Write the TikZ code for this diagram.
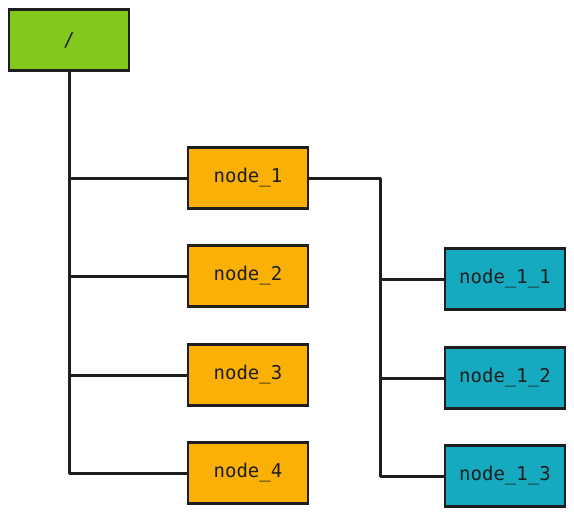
\documentclass[tikz,border=0pt]{standalone}
\usepackage{fontspec}
\setmonofont{DejaVu Sans Mono}
\definecolor{rootgreen}{HTML}{82C91E}
\definecolor{boxorange}{HTML}{FAB005}
\definecolor{boxteal}{HTML}{15AABF}
\definecolor{inkc}{HTML}{1E1E1E}
\begin{document}
\begin{tikzpicture}[x=1pt,y=-1pt,
  box/.style={draw=inkc,line width=2.4pt,minimum width=120pt,minimum height=61pt,inner sep=0pt,
    font=\ttfamily\fontsize{19}{21}\selectfont,text=inkc},
  link/.style={draw=inkc,line width=3pt,line join=round}]
\useasboundingbox (0,0) rectangle (574,515);
\node[box,fill=rootgreen] (root) at (69,40) {/};
\node[box,fill=boxorange] (n1) at (248,178) {node\_1};
\node[box,fill=boxorange] (n2) at (248,276) {node\_2};
\node[box,fill=boxorange] (n3) at (248,375) {node\_3};
\node[box,fill=boxorange] (n4) at (248,473) {node\_4};
\node[box,fill=boxteal] (n11) at (505,279) {node\_1\_1};
\node[box,fill=boxteal] (n12) at (505,378) {node\_1\_2};
\node[box,fill=boxteal] (n13) at (505,476) {node\_1\_3};
\coordinate (t0) at (root.south);
\draw[link] (t0) -- (t0 |- n4.west) -- (n4.west);
\draw[link] (t0 |- n1.west) -- (n1.west);
\draw[link] (t0 |- n2.west) -- (n2.west);
\draw[link] (t0 |- n3.west) -- (n3.west);
\coordinate (t1) at (380,0);
\draw[link] (n1.east) -- (t1 |- n1.east) -- (t1 |- n13.west) -- (n13.west);
\draw[link] (t1 |- n11.west) -- (n11.west);
\draw[link] (t1 |- n12.west) -- (n12.west);
\end{tikzpicture}
\end{document}
